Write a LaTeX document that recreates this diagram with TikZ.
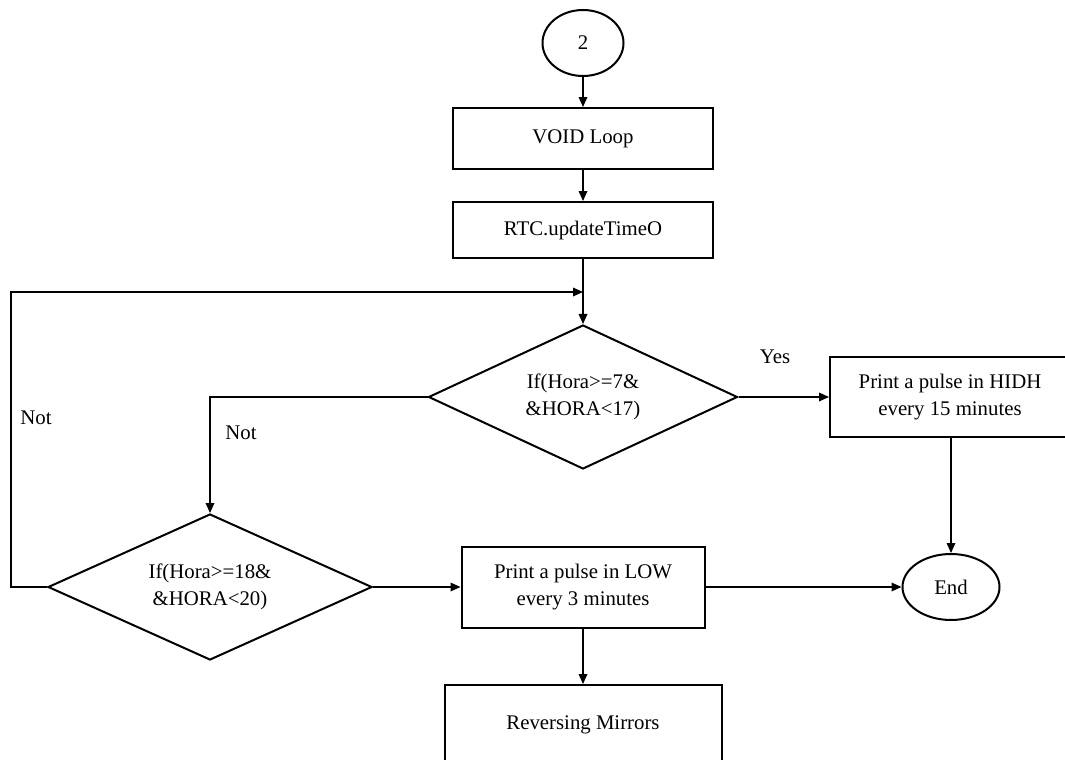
\documentclass[tikz,border=0pt]{standalone}
\usepackage{fontspec}
\setmainfont{Liberation Serif}
\usetikzlibrary{shapes.geometric,arrows.meta}
\begin{document}
\begin{tikzpicture}[x=0.75pt,y=-0.75pt,
 every node/.style={font=\fontsize{15.6}{20}\selectfont, align=center},
 box/.style={draw, line width=1.5pt, rectangle, inner sep=0pt},
 dec/.style={draw, line width=1.5pt, diamond, aspect=2.15, inner sep=0pt},
 term/.style={draw, line width=1.5pt, ellipse, inner sep=0pt},
 conn/.style={line width=0.9pt, -{Triangle[length=7.5pt,width=6.5pt]}},
 lbl/.style={inner sep=0pt}]
\useasboundingbox (0,0) rectangle (1065,760);
\clip (0,0) rectangle (1065,760);
% nodes
\node[term, minimum width=81*0.75pt, minimum height=66*0.75pt] (c2) at (583,43) {2};
\node[box, minimum width=260*0.75pt, minimum height=61*0.75pt] (void) at (583,138.5) {VOID Loop};
\node[box, minimum width=260*0.75pt, minimum height=56*0.75pt] (rtc) at (583,230) {RTC.updateTimeO};
\node[dec, minimum width=309*0.75pt, minimum height=144*0.75pt] (d1) at (583,397) {If(Hora>=7\&\\\&HORA<17)};
\node[box, minimum width=240*0.75pt, minimum height=80*0.75pt] (hidh) at (950,397) {Print a pulse in HIDH\\every 15 minutes};
\node[dec, minimum width=324*0.75pt, minimum height=146*0.75pt] (d2) at (210,587) {If(Hora>=18\&\\\&HORA<20)};
\node[box, minimum width=243*0.75pt, minimum height=81*0.75pt] (low) at (583,587) {Print a pulse in LOW\\every 3 minutes};
\node[term, minimum width=97*0.75pt, minimum height=66*0.75pt] (end) at (951,587) {End};
\node[box, minimum width=277*0.75pt, minimum height=80*0.75pt] (rev) at (583,725) {Reversing Mirrors};
% labels
\node[lbl] (yes) at (775,357) {Yes};
\node[lbl] (not1) at (36,418) {Not};
\node[lbl] (not2) at (241,433) {Not};
% helper coordinates
\coordinate (lc) at (11,292);
\coordinate (join) at (583,292);
% connectors
\draw[conn] (c2) -- (void);
\draw[conn] (void) -- (rtc);
\draw[conn] (rtc) -- (d1);
\draw[conn] (d1.east) -- (hidh.west);
\draw[conn] (d1.west) -| (d2.north);
\draw[conn] (d2.west) -| (lc) -- (join);
\draw[conn] (d2.east) -- (low.west);
\draw[conn] (low.east) -- (end.west);
\draw[conn] (hidh.south -| end.north) -- (end.north);
\draw[conn] (low.south) -- (rev.north);
\end{tikzpicture}
\end{document}
